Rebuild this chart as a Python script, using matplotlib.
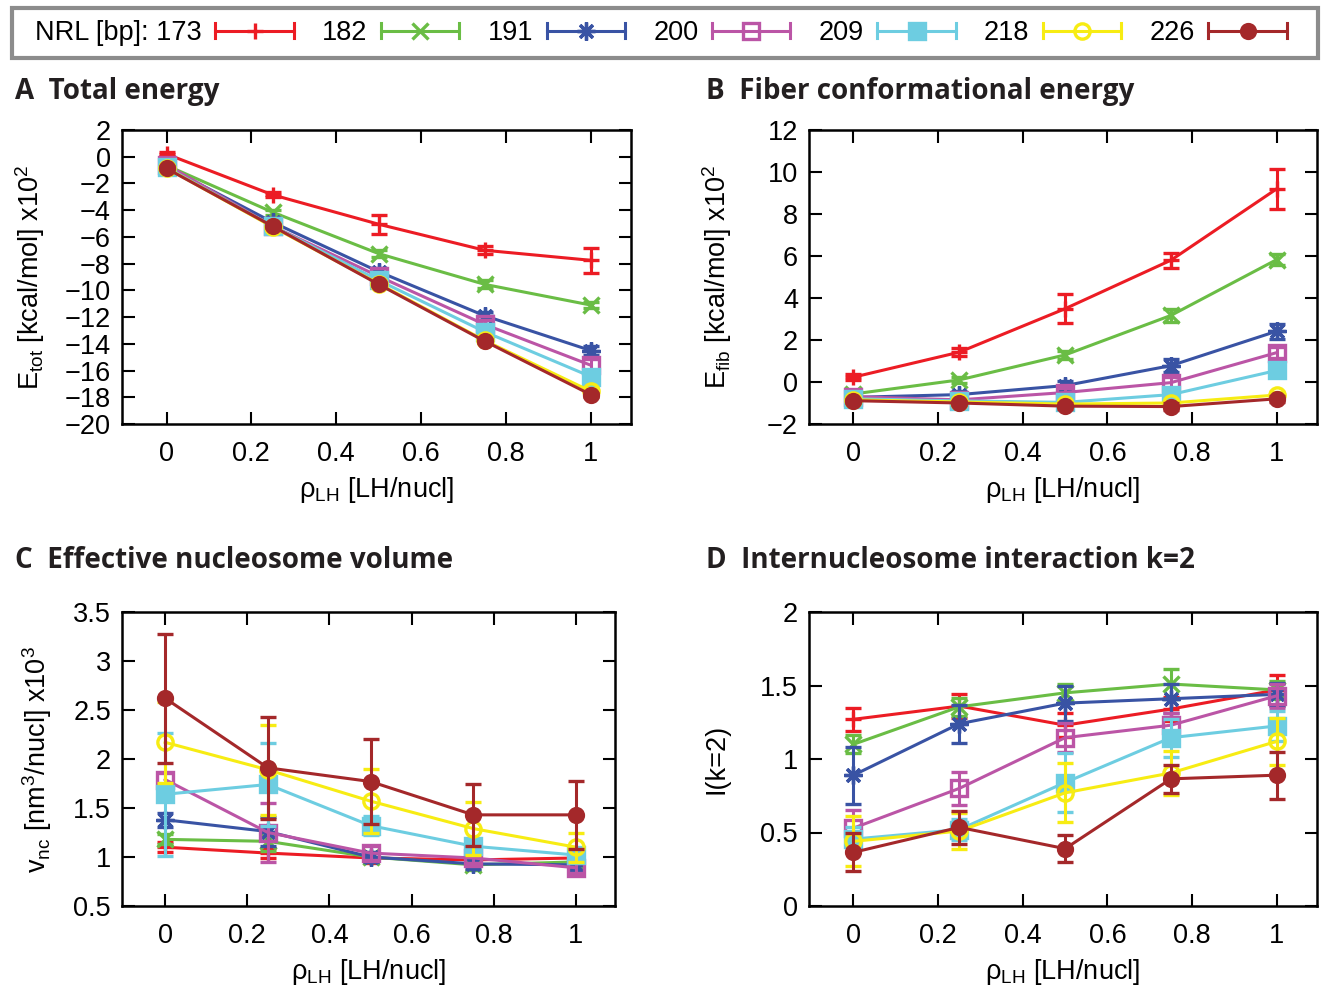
import matplotlib
matplotlib.use('Agg')
import matplotlib.pyplot as plt
from matplotlib.lines import Line2D
from matplotlib.patches import Rectangle
from matplotlib.legend_handler import HandlerBase
from matplotlib.ticker import FuncFormatter, MultipleLocator

# --- Data ---
rho_lh = [0, 0.25, 0.5, 0.75, 1]
nrl_labels = ['NRL [bp]: 173', '182', '191', '200', '209', '218', '226']

etot = [
    [0.2, -2.85, -5.05, -7.0, -7.75],
    [-0.65, -4.15, -7.25, -9.55, -11.1],
    [-0.75, -4.9, -8.6, -11.9, -14.5],
    [-0.6, -5.2, -8.95, -12.55, -15.6],
    [-0.8, -5.2, -9.25, -13.1, -16.45],
    [-0.85, -5.25, -9.5, -13.75, -17.55],
    [-0.88, -5.2, -9.55, -13.8, -17.8],
]
etot_err = [
    [0.15, 0.2, 0.7, 0.3, 0.95],
    [0.15, 0.2, 0.25, 0.3, 0.25],
    [0.15, 0.2, 0.25, 0.3, 0.35],
    [0.2, 0.2, 0.3, 0.35, 0.45],
    [0.15, 0.2, 0.2, 0.25, 0.3],
    [0.15, 0.15, 0.2, 0.2, 0.25],
    [0.15, 0.15, 0.15, 0.15, 0.15],
]

efib = [
    [0.23, 1.42, 3.49, 5.8, 9.2],
    [-0.57, 0.1, 1.29, 3.17, 5.83],
    [-0.73, -0.6, -0.17, 0.78, 2.42],
    [-0.7, -0.85, -0.5, -0.03, 1.4],
    [-0.8, -0.9, -0.97, -0.6, 0.55],
    [-0.85, -0.95, -1.05, -1.0, -0.62],
    [-0.89, -1.0, -1.15, -1.17, -0.8],
]
efib_err = [
    [0.15, 0.2, 0.7, 0.35, 0.95],
    [0.15, 0.15, 0.2, 0.3, 0.25],
    [0.15, 0.15, 0.2, 0.3, 0.35],
    [0.15, 0.15, 0.2, 0.25, 0.25],
    [0.1, 0.1, 0.1, 0.15, 0.2],
    [0.1, 0.1, 0.1, 0.1, 0.15],
    [0.1, 0.1, 0.15, 0.15, 0.15],
]

vnc = [
    [1.10, 1.04, 0.99, 0.97, 0.99],
    [1.18, 1.16, 1.0, 0.92, 0.95],
    [1.38, 1.26, 1.0, 0.93, 0.92],
    [1.79, 1.25, 1.04, 0.99, 0.89],
    [1.64, 1.74, 1.32, 1.11, 1.02],
    [2.17, 1.89, 1.57, 1.29, 1.10],
    [2.62, 1.91, 1.77, 1.43, 1.43],
]
vnc_err = [
    [0.05, 0.05, 0.05, 0.05, 0.05],
    [0.05, 0.1, 0.05, 0.05, 0.05],
    [0.07, 0.15, 0.05, 0.05, 0.05],
    [0.07, 0.3, 0.07, 0.05, 0.05],
    [0.63, 0.42, 0.1, 0.07, 0.07],
    [0.41, 0.46, 0.33, 0.27, 0.15],
    [0.66, 0.52, 0.43, 0.32, 0.35],
]

ik2 = [
    [1.27, 1.36, 1.23, 1.34, 1.47],
    [1.10, 1.355, 1.45, 1.51, 1.47],
    [0.89, 1.24, 1.38, 1.41, 1.44],
    [0.53, 0.80, 1.145, 1.23, 1.43],
    [0.455, 0.52, 0.84, 1.145, 1.225],
    [0.44, 0.51, 0.77, 0.905, 1.12],
    [0.365, 0.535, 0.39, 0.865, 0.89],
]
ik2_err = [
    [0.08, 0.08, 0.08, 0.08, 0.1],
    [0.06, 0.06, 0.06, 0.1, 0.06],
    [0.195, 0.13, 0.12, 0.1, 0.08],
    [0.12, 0.11, 0.1, 0.08, 0.08],
    [0.08, 0.07, 0.2, 0.13, 0.1],
    [0.17, 0.12, 0.2, 0.15, 0.16],
    [0.13, 0.11, 0.09, 0.095, 0.16],
]

# --- Style ---
COLORS = ['#ec1c24', '#6abd45', '#3953a4', '#bb55a6', '#6dcde1', '#f7ec13', '#a4282a']
MARKERS = ['+', 'x', (8, 2, 0), 's', 's', 'o', 'o']
FILLED = [True, True, True, False, True, False, True]
MSIZE = [12, 11, 13, 11, 11, 11, 10]
LW = 2.2
FS = 19.5

W, H = 1322, 992

plt.rcParams['font.family'] = ['Liberation Sans', 'DejaVu Sans']
plt.rcParams['mathtext.fontset'] = 'custom'
plt.rcParams['mathtext.rm'] = 'Liberation Sans'
plt.rcParams['axes.unicode_minus'] = True

fig = plt.figure(figsize=(W / 100, H / 100), dpi=100)


def px_axes(left, top, right, bottom):
    return fig.add_axes([left / W, 1 - bottom / H, (right - left) / W, (bottom - top) / H])


def fmt_g(v, _):
    s = '%g' % v
    return s.replace('-', '\u2212')


def draw_panel(ax, values, errors, ylim, ystep, ylabel, ypad):
    for i in range(len(values)):
        mfc = COLORS[i] if FILLED[i] else 'none'
        ax.errorbar(rho_lh, values[i], yerr=errors[i], color=COLORS[i],
                    marker=MARKERS[i], ms=MSIZE[i], mfc=mfc, mec=COLORS[i], mew=2.4,
                    lw=LW, elinewidth=LW, capsize=5.5, capthick=LW, zorder=2 + i)
    ax.set_xlim(-0.105, 1.095)
    ax.set_ylim(*ylim)
    ax.xaxis.set_major_locator(MultipleLocator(0.2))
    ax.yaxis.set_major_locator(MultipleLocator(ystep))
    ax.xaxis.set_major_formatter(FuncFormatter(fmt_g))
    ax.yaxis.set_major_formatter(FuncFormatter(fmt_g))
    ax.tick_params(direction='in', length=9, width=1.5, top=True, right=True,
                   labelsize=FS)
    ax.tick_params(axis='x', pad=12)
    ax.tick_params(axis='y', pad=8)
    for sp in ax.spines.values():
        sp.set_linewidth(1.8)
    ax.set_xlabel(r'ρ$_\mathregular{LH}$ [LH/nucl]', fontsize=FS, labelpad=6)
    ax.set_ylabel(ylabel, fontsize=FS, labelpad=ypad)


axA = px_axes(122, 130, 631, 424)
axB = px_axes(809, 130, 1317, 424)
axC = px_axes(122, 612, 615, 906)
axD = px_axes(809, 612, 1317, 906)

draw_panel(axA, etot, etot_err, (-20, 2), 2, r'E$_\mathregular{tot}$ [kcal/mol] x10$^\mathregular{2}$', 13)
draw_panel(axB, efib, efib_err, (-2, 12), 2, r'E$_\mathregular{fib}$ [kcal/mol] x10$^\mathregular{2}$', 24)
draw_panel(axC, vnc, vnc_err, (0.5, 3.5), 0.5, r'v$_\mathregular{nc}$ [nm$^\mathregular{3}$/nucl] x10$^\mathregular{3}$', 14)
draw_panel(axD, ik2, ik2_err, (0, 2), 0.5, 'I(k=2)', 22)

title_kw = dict(fontsize=20, fontweight='bold', family=['Open Sans', 'DejaVu Sans'],
                color='#231f20', va='center', ha='left')
fig.text(15 / W, 1 - 92 / H, 'A  Total energy', **title_kw)
fig.text(706 / W, 1 - 92 / H, 'B  Fiber conformational energy', **title_kw)
fig.text(15 / W, 1 - 561 / H, 'C  Effective nucleosome volume', **title_kw)
fig.text(706 / W, 1 - 561 / H, 'D  Internucleosome interaction k=2', **title_kw)


class GnuplotKey(HandlerBase):
    """Legend sample like gnuplot: line with end caps and a centered point."""

    def create_artists(self, legend, orig_handle, xdescent, ydescent, width,
                       height, fontsize, trans):
        y = height / 2 - ydescent
        x0, x1 = -xdescent, width - xdescent
        cap = height * 0.42
        c = orig_handle.get_color()
        kw = dict(color=c, lw=LW, transform=trans)
        arts = [Line2D([x0, x1], [y, y], **kw),
                Line2D([x0, x0], [y - cap, y + cap], **kw),
                Line2D([x1, x1], [y - cap, y + cap], **kw),
                Line2D([(x0 + x1) / 2], [y], ls='none', marker=orig_handle.get_marker(),
                       ms=orig_handle.get_markersize(), mfc=orig_handle.get_markerfacecolor(),
                       mec=c, mew=2.4, transform=trans)]
        return arts


# key box drawn separately so the entries can sit inset like the original
fig.patches.append(Rectangle((12 / W, 1 - 58 / H), 1306 / W, 50 / H, transform=fig.transFigure,
                             fill=False, edgecolor='#8c8c8c', linewidth=3))

handles = [Line2D([], [], color=COLORS[i], marker=MARKERS[i], ms=MSIZE[i],
                  mfc=COLORS[i] if FILLED[i] else 'none') for i in range(7)]
leg = fig.legend(handles, nrl_labels, handler_map={Line2D: GnuplotKey()},
                 ncol=7, loc='center', bbox_to_anchor=(35 / W, 1 - 58 / H, 1252 / W, 50 / H),
                 mode='expand', markerfirst=False, handlelength=2.9, handletextpad=0.5,
                 columnspacing=1.0, borderaxespad=0, borderpad=0, frameon=False,
                 fontsize=FS)

fig.savefig('out.png', dpi=100)
